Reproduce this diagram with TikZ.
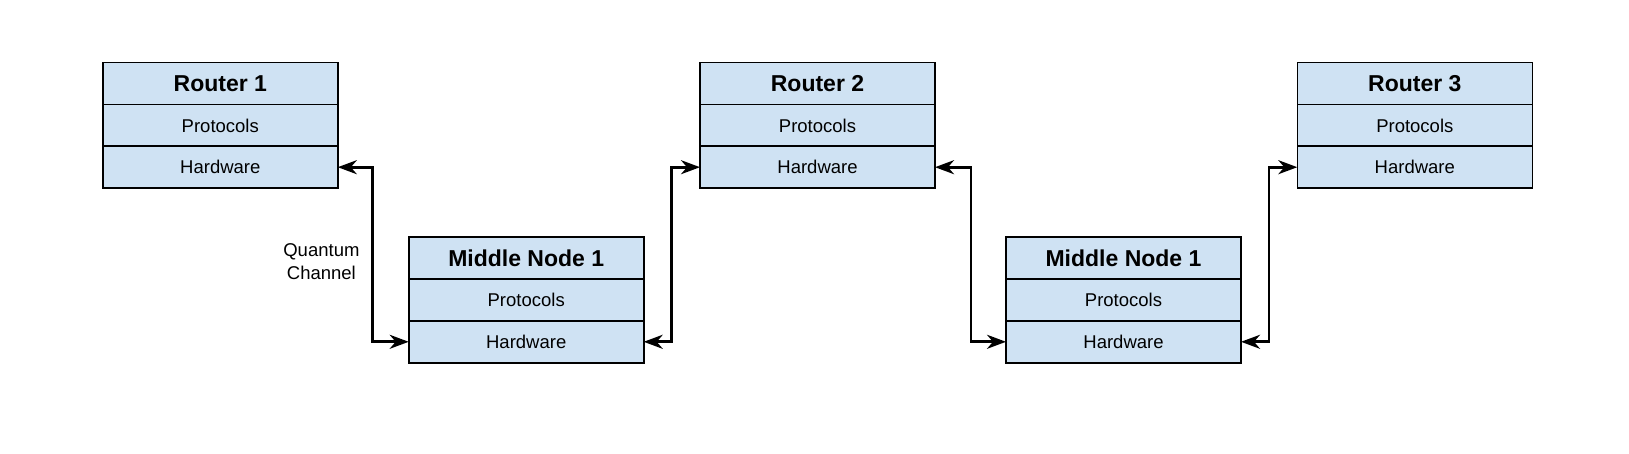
\documentclass[tikz,border=0pt]{standalone}
\usepackage{fontspec}
\setmainfont{Liberation Sans}
\usepackage{xcolor}
\usetikzlibrary{positioning}
\usetikzlibrary{arrows.meta}
\definecolor{layerblue}{HTML}{CFE2F3}

\begin{document}
\begin{tikzpicture}[x=1pt, y=-1pt, layer/.style={rectangle, draw=black, line width=1.6pt, fill=layerblue, minimum width=235pt, minimum height=41.8pt, inner sep=0pt, outer sep=0pt, font=\fontsize{18.5}{23}\selectfont}, title/.style={layer, font=\fontsize{23}{27}\selectfont\bfseries}, link/.style={line width=2.7pt, {Stealth[length=19pt, width=14pt, inset=6pt]}-{Stealth[length=19pt, width=14pt, inset=6pt]}}]
  \useasboundingbox (0,0) rectangle (1629,454);
  \foreach \n/\x/\y/\t in {r1/220.3/83.6/Router 1, m1/526.2/258.2/Middle Node 1, r2/817.5/83.6/Router 2, m2/1123.5/258.2/Middle Node 1, r3/1414.8/83.6/Router 3}{
    \node[title] (\n) at (\x,\y) {\t};
    \node[layer, below=0pt of \n] (\n-p) {Protocols};
    \node[layer, below=0pt of \n-p] (\n-h) {Hardware};
  }
  \draw[link] (r1-h.east) -- ++(35,0) |- (m1-h.west);
  \draw[link] (m1-h.east) -- ++(28,0) |- (r2-h.west);
  \draw[link] (r2-h.east) -- ++(36,0) |- (m2-h.west);
  \draw[link] (m2-h.east) -- ++(28,0) |- (r3-h.west);
  \node[align=center, font=\fontsize{18.5}{23}\selectfont] (qc) at (321.4,262) {Quantum\\Channel};
\end{tikzpicture}
\end{document}
